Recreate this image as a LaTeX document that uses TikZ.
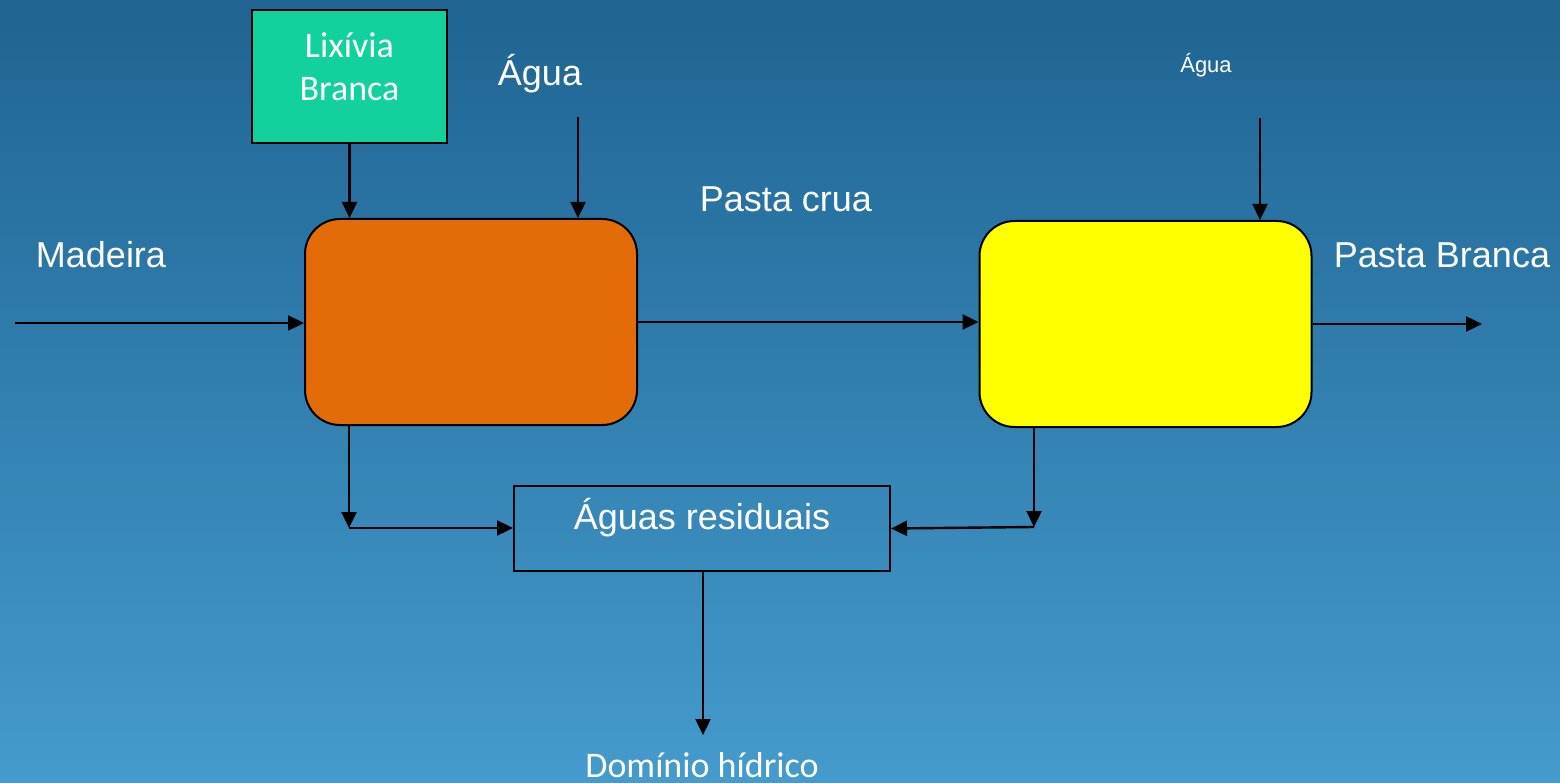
\documentclass[tikz,border=0pt]{standalone}
\usepackage{fontspec}
\setmainfont{Liberation Sans}
\newfontfamily\calib{Carlito}
\usetikzlibrary{arrows.meta}
\definecolor{bgtop}{RGB}{31,100,147}
\definecolor{bgbot}{RGB}{68,155,204}
\definecolor{greenbox}{RGB}{18,209,156}
\definecolor{orangebox}{RGB}{227,108,9}
\definecolor{yellowbox}{RGB}{255,255,0}
\tikzset{
  arr/.style={line width=2.4pt,-{Triangle[length=16pt,width=15pt]}},
  proc/.style={draw=black,line width=2pt,rounded corners=35pt,minimum width=332pt,minimum height=206pt,inner sep=0pt},
  lbl/.style={text=white,font=\fontsize{36}{43}\selectfont,inner sep=0pt},
  clbl/.style={text=white,font=\calib\fontsize{36}{43}\selectfont,inner sep=0pt,align=center},
}
\begin{document}
\begin{tikzpicture}[x=1pt,y=-1pt]
\shade[top color=bgtop,bottom color=bgbot] (0,0) rectangle (1560,783);
\useasboundingbox (0,0) rectangle (1560,783);
% boxes
\node[draw=black,line width=2pt,fill=greenbox,minimum width=195pt,minimum height=133pt,inner sep=0pt] (green) at (349.5,76.5) {};
\node[clbl] (greentxt) at (349.5,67) {Lixívia\\Branca};
\node[proc,fill=orangebox] (orange) at (471,322) {};
\node[proc,fill=yellowbox] (yellow) at (1145.5,324) {};
\node[draw=black,line width=2pt,minimum width=376pt,minimum height=85pt,inner sep=0pt] (waste) at (702,528.5) {};
\node[lbl] (wastetxt) at (702,518) {Águas residuais};
% labels
\node[lbl] (madeira) at (101,255) {Madeira};
\node[lbl] (agua1) at (540,74) {Água};
\node[lbl] (crua) at (786,199) {Pasta crua};
\node[lbl] (branca) at (1442,255) {Pasta Branca};
\node[text=white,font=\fontsize{22}{26}\selectfont,inner sep=0pt] (agua2) at (1206,65) {Água};
\node[clbl] (dominio) at (702,765) {Domínio hídrico};
% coordinates
\coordinate (m0) at (15,323);
\coordinate (a1) at (578,117);
\coordinate (a2) at (1260,118);
\coordinate (out) at (1482,324);
\coordinate (c1) at (349,528);
\coordinate (c2) at (1034,527);
\coordinate (dom) at (703,735);
% connectors
\draw[arr] (m0) -- (m0 -| orange.west);
\draw[arr] (green.south) -- (green.south |- orange.north);
\draw[arr] (a1) -- (a1 |- orange.north);
\draw[arr] (orange.east) -- (orange.east -| yellow.west);
\draw[arr] (a2) -- (a2 |- yellow.north);
\draw[arr] (yellow.east) -- (out);
\draw[arr] (orange.south -| c1) -- (c1);
\draw[arr] (c1) -- (c1 -| waste.west);
\draw[arr] (yellow.south -| c2) -- (c2);
\draw[arr] (c2) -- (waste.east);
\draw[arr] (waste.south -| dom) -- (dom);
\end{tikzpicture}
\end{document}
